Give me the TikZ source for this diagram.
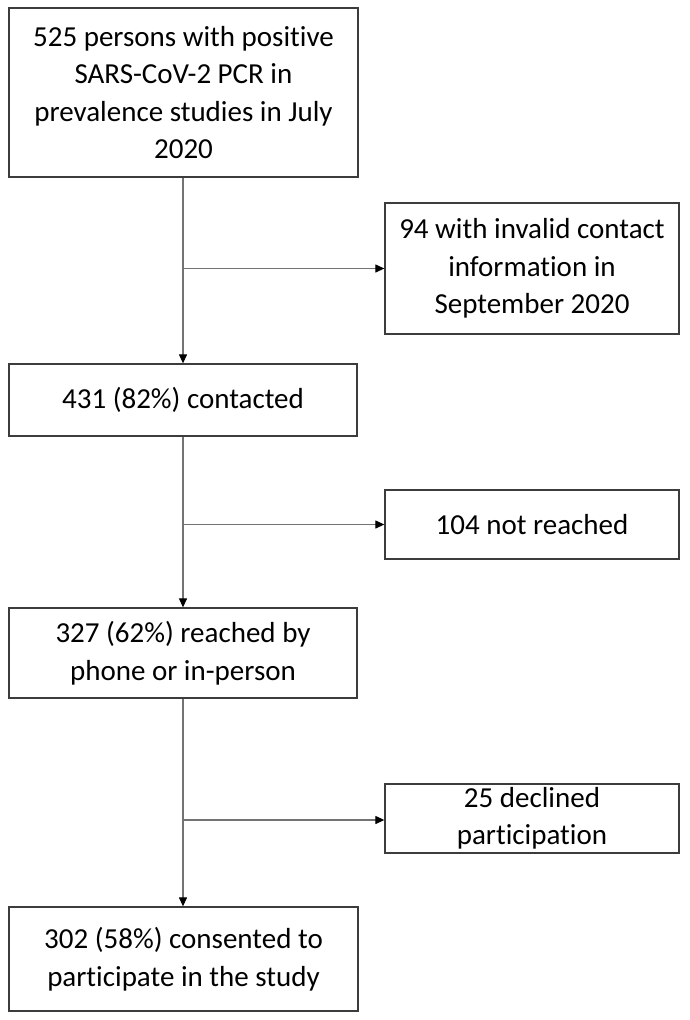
\documentclass[tikz,border=0pt]{standalone}
\usepackage{fontspec}
\setmainfont{Carlito}[Ligatures=NoCommon]
\usetikzlibrary{arrows.meta}
\definecolor{boxline}{RGB}{60,60,60}
\definecolor{connline}{RGB}{115,115,115}
\tikzset{
  flowbox/.style={draw=boxline, line width=1.3pt, rectangle, inner sep=0pt, align=center,
    font=\fontsize{29}{37.5}\selectfont},
  conn/.style={draw=connline, line width=1.2pt, -{Triangle[length=9pt,width=8pt,fill=black,color=black]}}
}
\begin{document}
\begin{tikzpicture}[x=1pt,y=-1pt]
\useasboundingbox[fill=white] (0,0) rectangle (689,1020);
\node[flowbox, minimum width=349pt, minimum height=169pt] (b1) at (183.5,92.5)
  {525 persons with positive\\SARS-CoV-2 PCR in\\prevalence studies in July\\2020};
\node[flowbox, minimum width=294pt, minimum height=131pt] (r1) at (532,268.5)
  {94 with invalid contact\\information in\\September 2020};
\node[flowbox, minimum width=348pt, minimum height=72pt] (b2) at (183,400)
  {431 (82\%) contacted};
\node[flowbox, minimum width=294pt, minimum height=69pt] (r2) at (532,524.5)
  {104 not reached};
\node[flowbox, minimum width=348pt, minimum height=90pt] (b3) at (183,653)
  {327 (62\%) reached by\\phone or in-person};
\node[flowbox, minimum width=294pt, minimum height=69pt] (r3) at (532,818.5)
  {25 declined\\participation};
\node[flowbox, minimum width=349pt, minimum height=104pt] (b4) at (183.5,959)
  {302 (58\%) consented to\\participate in the study};
\coordinate (j1) at (183,268.5);
\coordinate (j2) at (183,524.5);
\coordinate (j3) at (183,820);
\draw[conn] (b1.south -| j1) -- (b2.north -| j1);
\draw[conn] (j1) -- (r1.west |- j1);
\draw[conn] (b2.south -| j2) -- (b3.north -| j2);
\draw[conn] (j2) -- (r2.west |- j2);
\draw[conn] (b3.south -| j3) -- (b4.north -| j3);
\draw[conn] (j3) -- (r3.west |- j3);
\end{tikzpicture}
\end{document}
